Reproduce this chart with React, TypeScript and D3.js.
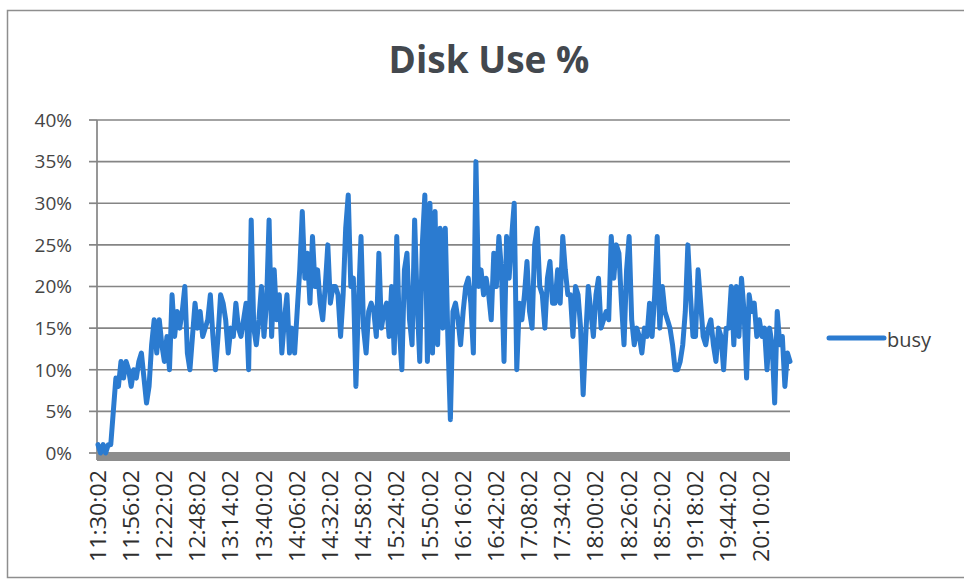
import React from "react";
import * as d3 from "d3";

const chartTitle = "Disk Use %";
const seriesName = "busy";
const yTickValues = [0, 5, 10, 15, 20, 25, 30, 35, 40];
const xTickLabels = [
  "11:30:02", "11:56:02", "12:22:02", "12:48:02", "13:14:02", "13:40:02", "14:06:02",
  "14:32:02", "14:58:02", "15:24:02", "15:50:02", "16:16:02", "16:42:02", "17:08:02",
  "17:34:02", "18:00:02", "18:26:02", "18:52:02", "19:18:02", "19:44:02", "20:10:02",
];
// one sample every 2 minutes, so a label every 13 samples (26 minutes)
const samplesPerLabel = 13;
const busy = [
  1, 0, 1, 0, 1, 1, 5, 9, 8, 11, 9, 11, 10, 8, 10, 9, 11, 12, 9, 6,
  8, 13, 16, 12, 16, 13, 11, 14, 10, 19, 14, 17, 15, 17, 20, 12, 10, 14, 18, 15,
  17, 14, 15, 16, 19, 14, 10, 14, 19, 18, 16, 12, 15, 14, 18, 15, 14, 16, 18, 10,
  28, 15, 13, 16, 20, 14, 18, 28, 14, 22, 16, 19, 12, 16, 19, 12, 15, 12, 17, 22,
  29, 21, 24, 18, 26, 20, 22, 18, 16, 20, 25, 18, 20, 20, 19, 14, 19, 27, 31, 20,
  21, 8, 18, 26, 15, 12, 17, 18, 17, 14, 24, 15, 17, 18, 14, 20, 12, 26, 15, 10,
  22, 24, 16, 13, 28, 18, 11, 25, 31, 11, 30, 12, 29, 13, 27, 15, 27, 14, 4, 17,
  18, 16, 13, 17, 20, 21, 18, 12, 35, 20, 22, 19, 21, 19, 16, 24, 20, 26, 22, 11,
  26, 21, 26, 30, 10, 18, 16, 19, 23, 17, 15, 25, 27, 20, 19, 15, 21, 23, 18, 18,
  22, 18, 26, 22, 19, 19, 14, 20, 19, 15, 7, 14, 20, 17, 14, 19, 21, 15, 16, 17,
  16, 26, 21, 25, 24, 18, 13, 22, 26, 16, 13, 15, 14, 12, 15, 14, 18, 14, 19, 26,
  15, 20, 17, 16, 15, 13, 10, 10, 11, 13, 17, 25, 19, 14, 14, 22, 18, 14, 13, 15,
  16, 13, 11, 15, 14, 10, 15, 15, 20, 13, 20, 14, 21, 17, 9, 19, 17, 18, 14, 16,
  14, 15, 10, 15, 13, 6, 17, 13, 14, 8, 12, 11,
];

const FONT = "'Open Sans', 'Liberation Sans', sans-serif";

export default function App() {
  const W = 964;
  const H = 583;
  const plotLeft = 97;
  const plotRight = 790;
  const x = d3.scaleLinear().domain([0, busy.length - 1]).range([98, 790]);
  const y = d3.scaleLinear().domain([0, 40]).range([453, 120]);
  const line = d3
    .line<number>()
    .x((_, i) => x(i))
    .y((d) => y(d));

  return (
    <svg
      width={W}
      height={H}
      style={{ position: "absolute", left: 0, top: 0, background: "#fff" }}
      fontFamily={FONT}
    >
      <rect x={0} y={0} width={W} height={H} fill="#fff" />
      {/* outer chart border */}
      <rect x={7.5} y={10.5} width={980} height={567} fill="none" stroke="#8e8e8e" strokeWidth={1.5} />

      {/* title */}
      <text x={489} y={73} textAnchor="middle" fontSize={37} fontWeight={700} fill="#43484e">
        {chartTitle}
      </text>

      {/* gridlines and y axis labels */}
      {yTickValues.map((v) => (
        <g key={v}>
          {v > 0 && (
            <line x1={plotLeft} x2={plotRight} y1={y(v)} y2={y(v)} stroke="#858585" strokeWidth={1.7} />
          )}
          <line x1={89} x2={plotLeft} y1={y(v)} y2={y(v)} stroke="#858585" strokeWidth={1.7} />
          <text x={72} y={y(v)} dy="0.36em" textAnchor="end" fontSize={19} fill="#454545">
            {v}%
          </text>
        </g>
      ))}
      {/* y axis line */}
      <line x1={plotLeft} x2={plotLeft} y1={y(40)} y2={y(0) + 7} stroke="#858585" strokeWidth={1.7} />

      {/* thick category axis band */}
      <rect x={plotLeft} y={y(0) - 1} width={plotRight - plotLeft} height={9} fill="#8d8d8d" />

      {/* series line */}
      <path
        d={line(busy) || ""}
        fill="none"
        stroke="#2b7bd0"
        strokeWidth={5}
        strokeLinejoin="round"
        strokeLinecap="round"
      />

      {/* x labels */}
      {xTickLabels.map((lab, k) => {
        const xx = x(k * samplesPerLabel);
        return (
          <text
            key={lab}
            transform={`translate(${xx},470) rotate(-90)`}
            textAnchor="end"
            dy="0.36em"
            fontSize={21}
            fill="#2e2e2e"
            textLength={92}
            lengthAdjust="spacingAndGlyphs"
          >
            {lab}
          </text>
        );
      })}

      {/* legend */}
      <line x1={829} x2={884} y1={338} y2={338} stroke="#2b7bd0" strokeWidth={5} strokeLinecap="round" />
      <text x={887} y={347} fontSize={20} fill="#404040">
        {seriesName}
      </text>
    </svg>
  );
}
